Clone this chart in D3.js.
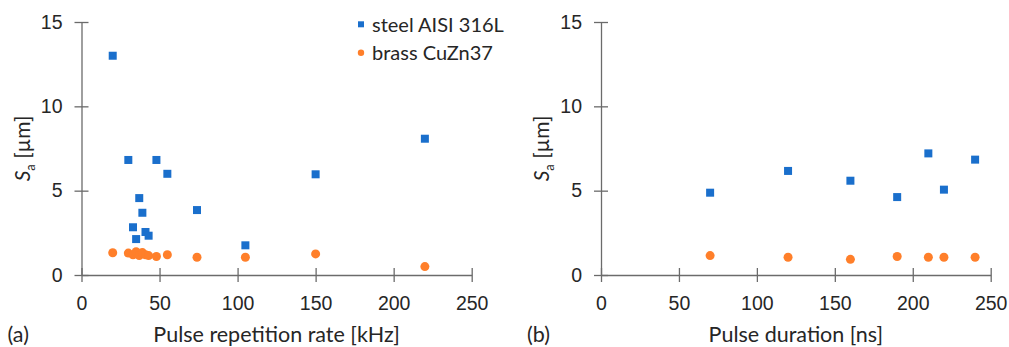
<!DOCTYPE html>
<html>
<head>
<meta charset="utf-8">
<script src="https://cdn.jsdelivr.net/npm/d3@7"></script>
<style>
  body { margin: 0; background: #fff; }
  svg { display: block; font-family: Lato, "Open Sans", sans-serif; }
  .tick text { fill: #262626; }
</style>
</head>
<body>
<div id="chart"></div>
<script>
// panel (a): pulse repetition rate [kHz]
const rateSteel = [20, 30, 33, 35, 37, 39, 41, 43, 48, 55, 74, 105, 150, 220];
const saSteelRate = [13.0, 6.82, 2.83, 2.13, 4.56, 3.69, 2.55, 2.33, 6.82, 6.0, 3.85, 1.76, 5.97, 8.08];
const rateBrass = [20, 30, 33, 35, 37, 39, 41, 43, 48, 55, 74, 105, 150, 220];
const saBrassRate = [1.32, 1.3, 1.2, 1.38, 1.15, 1.33, 1.2, 1.15, 1.1, 1.2, 1.05, 1.05, 1.25, 0.5];

// panel (b): pulse duration [ns]
const durSteel = [70, 120, 160, 190, 210, 220, 240];
const saSteelDur = [4.88, 6.17, 5.59, 4.62, 7.21, 5.06, 6.84];
const durBrass = [70, 120, 160, 190, 210, 220, 240];
const saBrassDur = [1.15, 1.05, 0.93, 1.1, 1.05, 1.05, 1.05];

const xTicks = [0, 50, 100, 150, 200, 250];
const yTicks = [0, 5, 10, 15];
const seriesNames = ["steel AISI 316L", "brass CuZn37"];

const W = 1009, H = 347;
const steelColor = "#1a6fcc", brassColor = "#ff7f2a";
const axisColor = "#6b6b6b";
const textColor = "#262626";

const svg = d3.select("#chart").append("svg")
  .attr("width", W).attr("height", H);

const y = d3.scaleLinear().domain([0, 15]).range([275, 22]);

function panel(x0, x1, tag, title, sx, sy, bx, by) {
  const x = d3.scaleLinear().domain([0, 250]).range([x0, x1]);
  const g = svg.append("g");

  // x axis
  const gx = g.append("g")
    .attr("transform", `translate(0,${y(0)})`)
    .call(d3.axisBottom(x).tickValues(xTicks).tickSizeInner(7).tickSizeOuter(0));
  gx.selectAll(".tick line").attr("y1", -7);
  gx.selectAll(".tick text").attr("y", 34.5).attr("dy", null).style("font-size", "19.5px");

  // y axis
  const gy = g.append("g")
    .attr("transform", `translate(${x0},0)`)
    .call(d3.axisLeft(y).tickValues(yTicks).tickSizeInner(7).tickSizeOuter(0).tickPadding(12));
  gy.selectAll(".tick line").attr("x1", 7);
  gy.selectAll(".tick text").style("font-size", "19.5px");

  g.selectAll(".domain, .tick line").attr("stroke", axisColor).attr("stroke-width", 1.3);

  // axis titles
  g.append("text")
    .attr("x", (x0 + x1) / 2).attr("y", 342)
    .attr("text-anchor", "middle")
    .attr("fill", textColor).style("font-size", "21.5px")
    .text(title);

  const yl = g.append("text")
    .attr("transform", `translate(${x0 - 52},${(y(0) + y(15)) / 2}) rotate(-90)`)
    .attr("text-anchor", "middle")
    .attr("fill", textColor).style("font-size", "21px");
  yl.append("tspan").style("font-style", "italic").text("S");
  yl.append("tspan").attr("dy", 5).style("font-size", "13px").text("a");
  yl.append("tspan").attr("dy", -5).text(" [µm]");

  g.append("text")
    .attr("x", x0 - 74).attr("y", 342)
    .attr("fill", textColor).style("font-size", "21.5px")
    .text(tag);

  // brass circles
  g.append("g").selectAll("circle")
    .data(d3.zip(bx, by))
    .join("circle")
    .attr("cx", d => x(d[0]))
    .attr("cy", d => y(d[1]))
    .attr("r", 4.5)
    .attr("fill", brassColor);

  // steel squares
  g.append("g").selectAll("rect")
    .data(d3.zip(sx, sy))
    .join("rect")
    .attr("x", d => x(d[0]) - 4)
    .attr("y", d => y(d[1]) - 4)
    .attr("width", 8).attr("height", 8)
    .attr("fill", steelColor);
}

panel(81.5, 471.7, "(a)", "Pulse repetition rate [kHz]", rateSteel, saSteelRate, rateBrass, saBrassRate);
panel(601, 990.7, "(b)", "Pulse duration [ns]", durSteel, saSteelDur, durBrass, saBrassDur);

// legend
const leg = svg.append("g").attr("transform", "translate(361,0)");
leg.append("rect").attr("x", -3).attr("y", 21.3).attr("width", 6).attr("height", 6).attr("fill", steelColor);
leg.append("circle").attr("cx", 0).attr("cy", 52.7).attr("r", 3.2).attr("fill", brassColor);
leg.selectAll("text")
  .data(seriesNames)
  .join("text")
  .attr("x", 11)
  .attr("y", (d, i) => 31.5 + i * 28.5)
  .attr("fill", textColor)
  .style("font-size", "20px")
  .text(d => d);
</script>
</body>
</html>
